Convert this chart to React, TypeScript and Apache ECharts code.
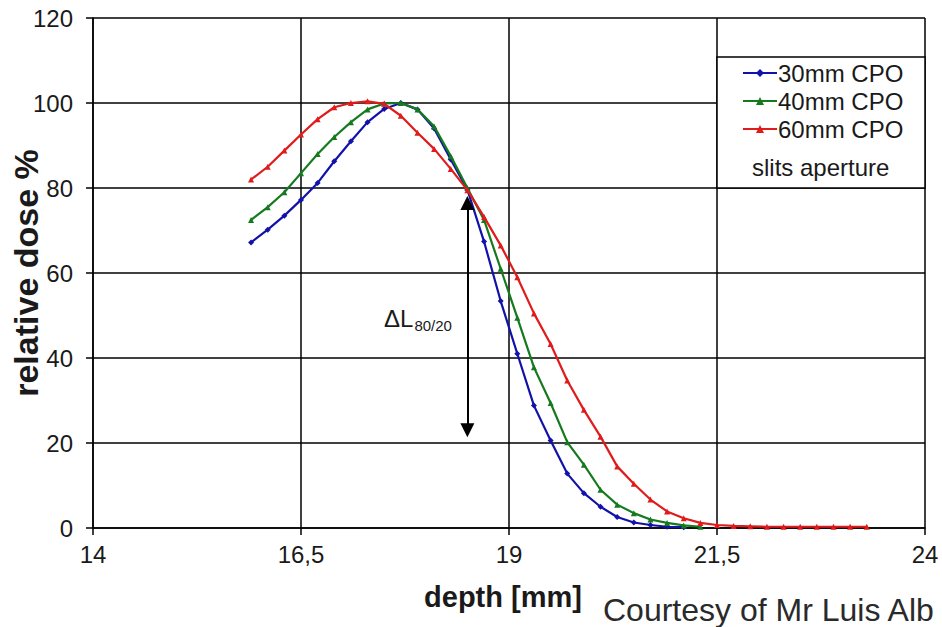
import React, { useEffect, useRef } from "react";
import * as echarts from "echarts";

// depth [mm]
const depth = [
  15.9, 16.1, 16.3, 16.5, 16.7, 16.9, 17.1, 17.3, 17.5, 17.7, 17.9, 18.1, 18.3,
  18.5, 18.7, 18.9, 19.1, 19.3, 19.5, 19.7, 19.9, 20.1, 20.3, 20.5, 20.7, 20.9,
  21.1, 21.3, 21.5, 21.7, 21.9, 22.1, 22.3, 22.5, 22.7, 22.9, 23.1, 23.3,
];

const cpo30 = [
  67.2, 70.2, 73.5, 77.2, 81.2, 86.3, 91.0, 95.5, 98.6, 100.0, 98.5, 94.0, 86.7,
  79.6, 67.4, 53.4, 41.0, 28.8, 20.6, 12.8, 8.2, 5.0, 2.6, 1.3, 0.7, 0.3, 0.2,
];

const cpo40 = [
  72.5, 75.5, 79.0, 83.5, 88.0, 92.0, 95.5, 98.5, 99.9, 100.0, 98.5, 94.5, 87.5,
  80.0, 72.5, 61.0, 49.5, 37.8, 29.4, 20.2, 14.9, 9.0, 5.5, 3.5, 2.0, 1.2, 0.6,
  0.3,
];

const cpo60 = [
  82.0, 85.0, 88.8, 92.6, 96.2, 99.0, 100.0, 100.4, 99.8, 97.0, 93.0, 89.2, 84.5,
  79.5, 73.2, 66.5, 59.0, 50.5, 43.3, 34.7, 27.8, 21.5, 14.5, 10.4, 6.7, 3.9, 2.3,
  1.2, 0.7, 0.5, 0.4, 0.3, 0.3, 0.3, 0.3, 0.3, 0.3, 0.3,
];

const seriesNames = ["30mm CPO", "40mm CPO", "60mm CPO"];
const seriesColors = ["#1212aa", "#157a1e", "#e01b1b"];

// x axis ticks: 14 .. 24 step 2.5 ; y axis ticks: 0 .. 120 step 20
const xMin = 14;
const xMax = 24;
const xStep = 2.5;
const yMin = 0;
const yMax = 120;
const yStep = 20;

// ΔL80/20 arrow (depth, dose from -> to)
const arrowDepth = 18.5;
const arrowFrom = 76.5;
const arrowTo = 23;

const FONT = '"Liberation Sans", Arial, sans-serif';
const TXT = "#1a1a1a";

export default function App() {
  const ref = useRef<HTMLDivElement>(null);

  useEffect(() => {
    const chart = echarts.init(ref.current!, null, { renderer: "svg" });
    const pair = (vals: number[]) => vals.map((v, i) => [depth[i], v]);

    chart.setOption({
      animation: false,
      backgroundColor: "#ffffff",
      grid: { left: 93, right: 17, top: 18, bottom: 99, outerBoundsMode: "none", containLabel: false },
      xAxis: {
        type: "value",
        min: xMin,
        max: xMax,
        interval: xStep,
        name: "depth [mm]",
        nameLocation: "middle",
        nameGap: 54,
        nameMoveOverlap: false,
        nameTextStyle: {
          fontFamily: FONT,
          fontWeight: "bold",
          fontSize: 29,
          color: TXT,
          padding: [0, 12, 0, 0],
        },
        axisLine: { onZero: false, lineStyle: { color: "#000", width: 1.5 } },
        axisTick: { show: true, inside: false, length: 7, lineStyle: { color: "#000", width: 1.5 } },
        axisLabel: {
          fontFamily: FONT,
          fontSize: 24,
          color: TXT,
          margin: 14,
          formatter: (v: number) => String(v).replace(".", ","),
        },
        splitLine: { show: true, lineStyle: { color: "#000", width: 1.5 } },
      },
      yAxis: {
        type: "value",
        min: yMin,
        max: yMax,
        interval: yStep,
        name: "relative dose %",
        nameLocation: "middle",
        nameGap: 50,
        nameMoveOverlap: false,
        nameTextStyle: {
          fontFamily: FONT,
          fontWeight: "bold",
          fontSize: 34,
          color: TXT,
        },
        axisLine: { show: true, lineStyle: { color: "#000", width: 1.5 } },
        axisTick: { show: true, inside: false, length: 7, lineStyle: { color: "#000", width: 1.5 } },
        axisLabel: {
          fontFamily: FONT,
          fontSize: 24,
          color: TXT,
          margin: 20,
        },
        splitLine: { show: true, lineStyle: { color: "#000", width: 1.5 } },
      },
      legend: {
        orient: "vertical",
        left: 742,
        top: 61,
        itemWidth: 34,
        itemHeight: 10,
        itemGap: 4,
        padding: 0,
        textStyle: { fontFamily: FONT, fontSize: 24, color: TXT, lineHeight: 24, padding: [0, 0, 0, -4] },
        data: seriesNames,
      },
      graphic: [
        {
          type: "rect",
          z: 1,
          shape: { x: 717, y: 57, width: 208, height: 131 },
          style: { fill: "#ffffff", stroke: "#000", lineWidth: 1.5 },
        },
        {
          type: "text",
          z: 5,
          left: 752,
          top: 155,
          style: { text: "slits aperture", fontFamily: FONT, fontSize: 24, fill: TXT },
        },
        {
          type: "text",
          z: 5,
          left: 384,
          top: 306,
          style: {
            text: "{a|ΔL}{b|80/20}",
            rich: {
              a: { fontFamily: FONT, fontSize: 24, fill: TXT, color: TXT },
              b: { fontFamily: FONT, fontSize: 15, fill: TXT, color: TXT, padding: [14, 0, 0, 1] },
            },
          },
        },
        {
          type: "text",
          z: 5,
          left: 603,
          top: 594,
          style: { text: "Courtesy of Mr Luis Alb", fontFamily: FONT, fontSize: 32, fill: "#2a2a2a" },
        },
      ],
      series: [
        {
          name: seriesNames[0],
          type: "line",
          data: pair(cpo30),
          color: seriesColors[0],
          symbol: "diamond",
          symbolSize: 6,
          lineStyle: { width: 2.2 },
          z: 3,
        },
        {
          name: seriesNames[1],
          type: "line",
          data: pair(cpo40),
          color: seriesColors[1],
          symbol: "triangle",
          symbolSize: 6,
          lineStyle: { width: 2.2 },
          z: 4,
        },
        {
          name: seriesNames[2],
          type: "line",
          data: pair(cpo60),
          color: seriesColors[2],
          symbol: "triangle",
          symbolSize: 6,
          lineStyle: { width: 2.2 },
          z: 5,
          markLine: {
            silent: true,
            symbol: ["triangle", "triangle"],
            symbolSize: [14, 14],
            label: { show: false },
            lineStyle: { color: "#000", width: 2, type: "solid" },
            data: [
              [
                { coord: [arrowDepth, arrowFrom] },
                { coord: [arrowDepth, arrowTo] },
              ],
            ],
          },
        },
      ],
    });

    return () => chart.dispose();
  }, []);

  return (
    <div
      ref={ref}
      style={{ position: "fixed", left: 0, top: 0, width: 942, height: 627, background: "#fff" }}
    />
  );
}
